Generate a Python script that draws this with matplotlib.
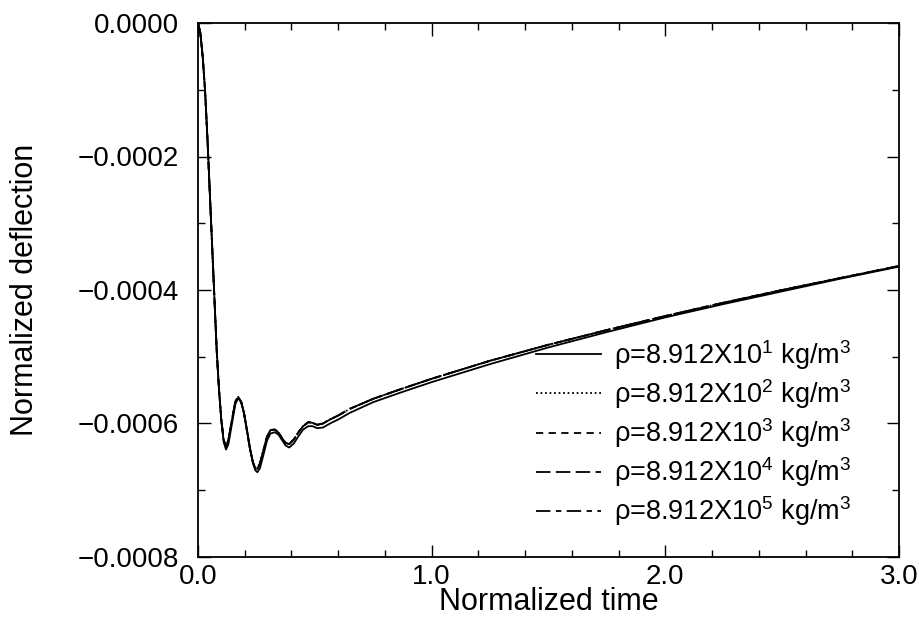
import matplotlib
matplotlib.use("Agg")
import matplotlib.pyplot as plt
from matplotlib.ticker import FixedLocator, MultipleLocator

plt.rcParams['font.family'] = ['Liberation Sans', 'DejaVu Sans']
plt.rcParams['mathtext.fontset'] = 'custom'
plt.rcParams['mathtext.rm'] = 'Liberation Sans'
plt.rcParams['mathtext.it'] = 'Liberation Sans'
plt.rcParams['mathtext.default'] = 'regular'

# ---- data ----
time = [0, 0.01, 0.02, 0.03, 0.04, 0.05, 0.06, 0.07, 0.08, 0.09, 0.10, 0.11, 0.12,
        0.13, 0.145, 0.16, 0.172, 0.185, 0.197, 0.21, 0.2225, 0.235, 0.245, 0.254,
        0.265, 0.28, 0.295, 0.31, 0.3295, 0.345, 0.36, 0.375, 0.39, 0.41, 0.43, 0.45,
        0.472, 0.49, 0.51, 0.535, 0.565, 0.6, 0.65, 0.75, 0.864, 1.0, 1.25, 1.5, 1.75,
        2.0, 2.25, 2.5, 2.75, 3.0]

rho_1e1 = [0, -0.000015, -0.00005, -0.00010, -0.00017, -0.00025, -0.00033, -0.00041,
           -0.00049, -0.00055, -0.000597, -0.000628, -0.000639, -0.000631, -0.000601,
           -0.000571, -0.000562, -0.000568, -0.000584, -0.000610, -0.000637, -0.000659,
           -0.000670, -0.000673, -0.000667, -0.000647, -0.000626, -0.000615, -0.000613,
           -0.000617, -0.000625, -0.000633, -0.000636, -0.000630, -0.000619, -0.000609,
           -0.000604, -0.000604, -0.000607, -0.000606, -0.000600, -0.000594, -0.000584,
           -0.000568, -0.000554, -0.000538, -0.000511, -0.000486, -0.000463, -0.000441,
           -0.000421, -0.000402, -0.000383, -0.000365]

rho_1e2 = [0, -0.000015, -0.00005, -0.00010, -0.00017, -0.00025, -0.00033, -0.00041,
           -0.00049, -0.00055, -0.000595, -0.000625, -0.000635, -0.000625, -0.000595,
           -0.000567, -0.000560, -0.000568, -0.000585, -0.000612, -0.000638, -0.000658,
           -0.000667, -0.000668, -0.000660, -0.000640, -0.000620, -0.000610, -0.000609,
           -0.000614, -0.000622, -0.000629, -0.000631, -0.000624, -0.000613, -0.000604,
           -0.000598, -0.000599, -0.000602, -0.000600, -0.000594, -0.000588, -0.000578,
           -0.000563, -0.000549, -0.000533, -0.000506, -0.000482, -0.000460, -0.000439,
           -0.000419, -0.000400, -0.000382, -0.000364]

rho_1e3 = [0, -0.000015, -0.00005, -0.00010, -0.00017, -0.00025, -0.00033, -0.00041,
           -0.00049, -0.00055, -0.000595, -0.000625, -0.000635, -0.000625, -0.000595,
           -0.000567, -0.000560, -0.000568, -0.000585, -0.000612, -0.000638, -0.000658,
           -0.000667, -0.000668, -0.000660, -0.000640, -0.000620, -0.000610, -0.000609,
           -0.000614, -0.000622, -0.000629, -0.000631, -0.000624, -0.000613, -0.000604,
           -0.000598, -0.000599, -0.000602, -0.000600, -0.000594, -0.000588, -0.000578,
           -0.000563, -0.000549, -0.000533, -0.000506, -0.000482, -0.000460, -0.000439,
           -0.000419, -0.000400, -0.000382, -0.000364]

rho_1e4 = [0, -0.000015, -0.00005, -0.00010, -0.00017, -0.00025, -0.00033, -0.00041,
           -0.00049, -0.00055, -0.000595, -0.000625, -0.000635, -0.000625, -0.000595,
           -0.000567, -0.000560, -0.000568, -0.000585, -0.000612, -0.000638, -0.000658,
           -0.000667, -0.000668, -0.000660, -0.000640, -0.000620, -0.000610, -0.000609,
           -0.000614, -0.000622, -0.000629, -0.000631, -0.000624, -0.000613, -0.000604,
           -0.000598, -0.000599, -0.000602, -0.000600, -0.000594, -0.000588, -0.000578,
           -0.000563, -0.000549, -0.000533, -0.000506, -0.000482, -0.000460, -0.000439,
           -0.000419, -0.000400, -0.000382, -0.000364]

rho_1e5 = [0, -0.000015, -0.00005, -0.00010, -0.00017, -0.00025, -0.00033, -0.00041,
           -0.00049, -0.00055, -0.000595, -0.000625, -0.000635, -0.000625, -0.000595,
           -0.000567, -0.000560, -0.000568, -0.000585, -0.000612, -0.000638, -0.000658,
           -0.000667, -0.000668, -0.000660, -0.000640, -0.000620, -0.000610, -0.000609,
           -0.000614, -0.000622, -0.000629, -0.000631, -0.000624, -0.000613, -0.000604,
           -0.000598, -0.000599, -0.000602, -0.000600, -0.000594, -0.000588, -0.000578,
           -0.000563, -0.000549, -0.000533, -0.000506, -0.000482, -0.000460, -0.000439,
           -0.000419, -0.000400, -0.000382, -0.000364]

labels = [r'ρ=8.912X10$^{1}$ kg/m$^{3}$',
          r'ρ=8.912X10$^{2}$ kg/m$^{3}$',
          r'ρ=8.912X10$^{3}$ kg/m$^{3}$',
          r'ρ=8.912X10$^{4}$ kg/m$^{3}$',
          r'ρ=8.912X10$^{5}$ kg/m$^{3}$']

x_ticks = [0.0, 1.0, 2.0, 3.0]
x_tick_labels = ['0.0', '1.0', '2.0', '3.0']
y_ticks = [0.0, -0.0002, -0.0004, -0.0006, -0.0008]
y_tick_labels = ['0.0000', '\u22120.0002', '\u22120.0004', '\u22120.0006', '\u22120.0008']

# ---- figure ----
fig = plt.figure(figsize=(9.19, 6.28), dpi=100)
ax = fig.add_axes([198/919, 1 - 557/628, 701/919, 534/628])

series = [rho_1e1, rho_1e2, rho_1e3, rho_1e4, rho_1e5]
styles = ['-', (0, (1, 1.5)), (0, (4, 3)), (0, (8, 3)), (0, (8, 3, 3, 3))]
for vals, ls, lab in zip(series, styles, labels):
    ax.plot(time, vals, color='black', linestyle=ls, linewidth=1.3, label=lab)

ax.set_xlim(0, 3.0)
ax.set_ylim(-0.0008, 0.0)
ax.xaxis.set_major_locator(FixedLocator(x_ticks))
ax.set_xticklabels(x_tick_labels)
ax.xaxis.set_minor_locator(MultipleLocator(0.2))
ax.yaxis.set_major_locator(FixedLocator(y_ticks))
ax.set_yticklabels(y_tick_labels)
ax.yaxis.set_minor_locator(MultipleLocator(0.0001))

ax.tick_params(which='both', direction='in', top=True, right=True, labelsize=20, width=1.0)
ax.tick_params(which='major', length=9)
ax.tick_params(which='minor', length=5)
ax.tick_params(axis='y', pad=14)
ax.tick_params(axis='x', pad=5)
for sp in ax.spines.values():
    sp.set_linewidth(1.3)

ax.set_xlabel('Normalized time', fontsize=22)
ax.xaxis.set_label_coords(0.5, -0.056)
ax.set_ylabel('Normalized deflection', fontsize=22)
ax.yaxis.set_label_coords(-0.226, 0.5)

leg = ax.legend(loc='center', bbox_to_anchor=(0.707, 0.232), frameon=False, fontsize=19.5,
                handlelength=2.4, handletextpad=0.45, labelspacing=0.2, borderpad=0)

fig.savefig('out.png', dpi=100)
